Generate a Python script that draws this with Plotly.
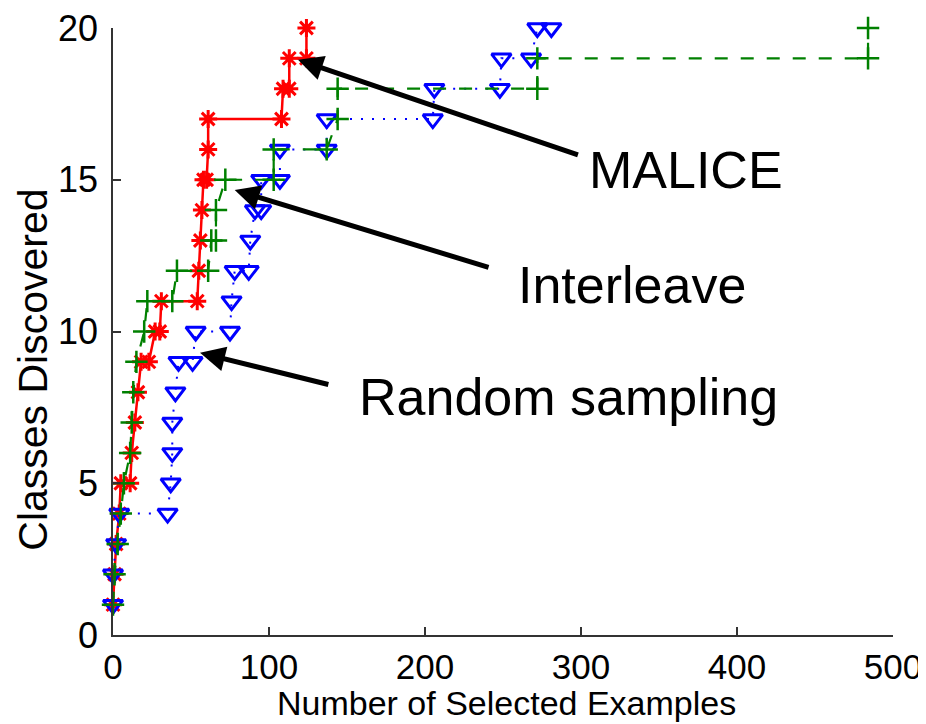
import plotly.graph_objects as go

# MALICE (red, asterisk, solid)
malice_x = [0, 1, 2, 4, 5, 11, 12, 14, 16, 18, 23, 27, 30, 31, 54, 55, 56, 57, 58, 60, 61, 61, 108, 109, 113, 113, 124, 124]
malice_y = [1, 2, 3, 4, 5, 5, 6, 7, 8, 9, 9, 10, 10, 11, 11, 12, 13, 14, 15, 15, 16, 17, 17, 18, 18, 19, 19, 20]

# Interleave (green, plus, dashed)
inter_x = [0, 1, 3, 5, 7, 11, 12, 13, 15, 20, 22, 38, 41, 61, 63, 66, 66, 72, 103, 103, 137, 144, 144, 272, 272, 484, 484]
inter_y = [1, 2, 3, 4, 5, 6, 7, 8, 9, 10, 11, 11, 12, 12, 13, 13, 14, 15, 15, 16, 16, 17, 18, 18, 19, 19, 20]

# Random sampling (blue, triangle-down, dotted)
rand_x = [0, 0, 2, 4, 35, 37, 38, 38, 40, 42, 51, 53, 75, 76, 78, 87, 88, 91, 95, 95, 107, 107, 137, 137, 205, 206, 248, 249, 268, 272, 281]
rand_y = [1, 2, 3, 4, 4, 5, 6, 7, 8, 9, 9, 10, 10, 11, 12, 12, 13, 14, 14, 15, 15, 16, 16, 17, 17, 18, 18, 19, 19, 20, 20]

x_ticks = [0, 100, 200, 300, 400, 500]
y_ticks = [0, 5, 10, 15, 20]

x_title = "Number of Selected Examples"
y_title = "Classes Discovered"

labels = ["MALICE", "Interleave", "Random sampling"]
label_pos = [(367, 15.32), (333, 11.53), (292, 7.84)]
arrow_heads = [(118.6, 18.95), (78, 14.66), (55.8, 9.3)]
arrow_tails = [(299, 15.8), (241.7, 12.1), (139, 8.24)]

FONT = "Liberation Sans, Arial, Helvetica, sans-serif"

fig = go.Figure()
fig.add_trace(go.Scatter(
    x=malice_x, y=malice_y, mode="lines+markers", name="MALICE",
    line=dict(color="#ff0000", width=2.5),
    marker=dict(symbol="asterisk-open", size=15, line=dict(color="#ff0000", width=3)),
    cliponaxis=False,
))
fig.add_trace(go.Scatter(
    x=rand_x, y=rand_y, mode="lines+markers", name="Random sampling",
    line=dict(color="#0000ff", width=2, dash="2px,9px"),
    marker=dict(symbol="triangle-down-open", size=17, color="#0000ff", line=dict(color="#0000ff", width=3)),
    cliponaxis=False,
))
fig.add_trace(go.Scatter(
    x=inter_x, y=inter_y, mode="lines+markers", name="Interleave",
    line=dict(color="#008000", width=2.2, dash="13px,13px"),
    marker=dict(symbol="cross-thin-open", size=16, line=dict(color="#008000", width=2.5)),
    cliponaxis=False,
))

for (hx, hy), (tx, ty) in zip(arrow_heads, arrow_tails):
    fig.add_annotation(x=hx, y=hy, ax=tx, ay=ty, xref="x", yref="y", axref="x", ayref="y",
                       text="", showarrow=True, arrowhead=2, arrowsize=1.0, arrowwidth=5,
                       arrowcolor="black", standoff=0, startstandoff=0)

for t, (lx, ly) in zip(labels, label_pos):
    fig.add_annotation(x=lx, y=ly, xref="x", yref="y", text=t, showarrow=False,
                       xanchor="center", yanchor="middle",
                       font=dict(family=FONT, size=52, color="black"))

# axis titles
fig.add_annotation(x=0.504, y=-0.112, xref="paper", yref="paper", text=x_title, showarrow=False,
                   xanchor="center", yanchor="middle", font=dict(family=FONT, size=34, color="black"))
fig.add_annotation(x=-0.1026, y=0.437, xref="paper", yref="paper", text=y_title, showarrow=False,
                   textangle=-90, xanchor="center", yanchor="middle",
                   font=dict(family=FONT, size=41, color="black"))

# page body adds an 8px offset; margins compensate so the plot area lands at 113..893 x 28..635
fig.update_layout(
    width=926, height=724,
    margin=dict(l=105, r=41, t=20, b=97),
    paper_bgcolor="white", plot_bgcolor="white",
    showlegend=False,
)
fig.update_xaxes(
    range=[0, 500], tickvals=x_ticks, ticktext=[str(v) for v in x_ticks],
    ticks="inside", ticklen=8, tickwidth=1.5, tickcolor="#333",
    showline=True, linecolor="#333", linewidth=1.5, showgrid=False, zeroline=False,
    automargin=False, ticklabeloverflow="allow",
    tickfont=dict(family=FONT, size=35, color="black"),
)
fig.update_yaxes(
    range=[0, 20], tickvals=y_ticks, ticktext=[str(v) for v in y_ticks],
    ticks="inside", ticklen=8, tickwidth=1.5, tickcolor="#333",
    showline=True, linecolor="#333", linewidth=1.5, showgrid=False, zeroline=False,
    automargin=False, ticklabeloverflow="allow", ticklabelstandoff=6,
    tickfont=dict(family=FONT, size=36, color="black"),
)

fig.write_html("out.html")
